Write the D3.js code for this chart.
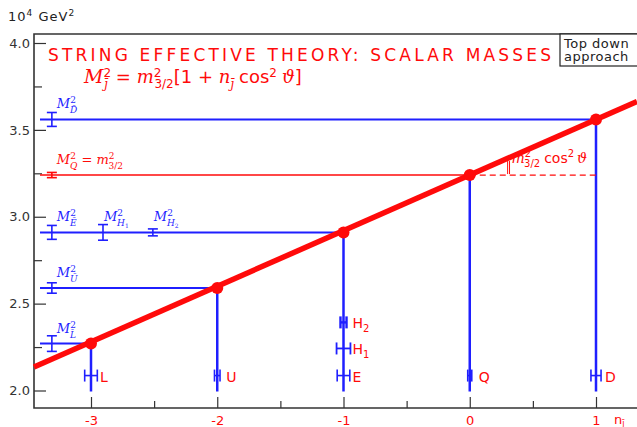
<!DOCTYPE html>
<html>
<head>
<meta charset="utf-8">
<script src="https://cdn.jsdelivr.net/npm/d3@7"></script>
<style>
  body { margin: 0; background: #fff; }
  svg { display: block; }
  text { font-family: "DejaVu Sans", sans-serif; }
  .m { font-family: "DejaVu Serif", "Liberation Serif", serif; font-style: italic; }
</style>
</head>
<body>
<div id="chart"></div>
<script>
// dades
let nVals = [-3, -2, -1, 0, 1]
let noms = ['L', 'U', 'E', 'Q', 'D']
let masses = [2.27, 2.59, 2.91, 3.24, 3.56]
let errMassa = [0.045, 0.03, 0.04, 0.015, 0.04]
let errN = [0.05, 0.022, 0.05, 0.016, 0.04]
let yBarraN = 2.086
// higgs
let nomsH = ['H1', 'H2']
let massesH = [2.91, 2.91]
let errMassaH = [0.045, 0.02]
let errNH = [0.055, 0.024]
let yBarraH = [2.242, 2.392]
// posicions n de les barres d'error de l'esquerra
let xErrEsq = -3.31
let xErrH = [-2.905, -2.51]
// model
let m32 = 3.24
let cos2 = 0.32
let ticksY = [2.0, 2.5, 3.0, 3.5, 4.0]
let ticksYmin = [2.25, 2.75, 3.25, 3.75]
let ticksX = [-3, -2, -1, 0, 1]
let ticksXmin = [-2.5, -1.5, -0.5, 0.5]

let ample = 637, alt = 427
let blau = '#1f1fff', vermell = '#ff0a0a'

let svg = d3.select('#chart').append('svg')
  .attr('width', ample).attr('height', alt)

let x = d3.scaleLinear().domain([-3, 1]).range([91, 596])
let y = d3.scaleLinear().domain([2, 4]).range([390.5, 43])
let xMin = x.invert(34), xMax = x.invert(ample)

// eixos
svg.append('g').attr('transform', 'translate(0,408)')
  .call(d3.axisBottom(x).tickValues(ticksX).tickSize(-11).tickPadding(8).tickFormat(d => String(d)))
  .call(g => g.select('.domain').remove())
  .call(g => g.selectAll('line').attr('stroke', '#333').attr('stroke-width', 1.2))
  .call(g => g.selectAll('text').attr('fill', vermell).attr('font-size', 13).attr('font-family', 'DejaVu Sans'))
svg.append('g').attr('transform', 'translate(0,408)')
  .call(d3.axisBottom(x).tickValues(ticksXmin).tickSize(-7).tickFormat(''))
  .call(g => g.select('.domain').remove())
  .call(g => g.selectAll('line').attr('stroke', '#333').attr('stroke-width', 1.2))

svg.append('g').attr('transform', 'translate(34,0)')
  .call(d3.axisLeft(y).tickValues(ticksY).tickSize(-12).tickPadding(4).tickFormat(d3.format('.1f')))
  .call(g => g.select('.domain').remove())
  .call(g => g.selectAll('line').attr('stroke', '#333').attr('stroke-width', 1.2))
  .call(g => g.selectAll('text').attr('fill', '#333').attr('font-size', 13).attr('font-family', 'DejaVu Sans'))
svg.append('g').attr('transform', 'translate(34,0)')
  .call(d3.axisLeft(y).tickValues(ticksYmin).tickSize(-8).tickFormat(''))
  .call(g => g.select('.domain').remove())
  .call(g => g.selectAll('line').attr('stroke', '#333').attr('stroke-width', 1.2))

// marc
svg.append('path')
  .attr('d', `M${ample},34H34V408H${ample}`)
  .attr('fill', 'none').attr('stroke', '#333').attr('stroke-width', 1.6)

// línies horitzontals i verticals
let xInici = x.invert(40)
nVals.forEach((n, i) => {
  let col = noms[i] === 'Q' ? vermell : blau
  svg.append('line')
    .attr('x1', x(xInici)).attr('x2', x(n))
    .attr('y1', y(masses[i])).attr('y2', y(masses[i]))
    .attr('stroke', col).attr('stroke-width', noms[i] === 'Q' ? 1.5 : 2)
  svg.append('line')
    .attr('x1', x(n)).attr('x2', x(n))
    .attr('y1', y(masses[i])).attr('y2', y(2) + 1)
    .attr('stroke', blau).attr('stroke-width', 2.5)
})
// línia discontínua Q
svg.append('line')
  .attr('x1', x(0)).attr('x2', x(1))
  .attr('y1', y(m32)).attr('y2', y(m32))
  .attr('stroke', vermell).attr('stroke-width', 1.3).attr('stroke-dasharray', '6,4')

// barres d'error verticals (esquerra)
function barraV(xv, yv, e, col) {
  let g = svg.append('g').attr('stroke', col).attr('stroke-width', 1.6)
  g.append('line').attr('x1', x(xv)).attr('x2', x(xv)).attr('y1', y(yv - e)).attr('y2', y(yv + e))
  g.append('line').attr('x1', x(xv) - 5).attr('x2', x(xv) + 5).attr('y1', y(yv - e)).attr('y2', y(yv - e))
  g.append('line').attr('x1', x(xv) - 5).attr('x2', x(xv) + 5).attr('y1', y(yv + e)).attr('y2', y(yv + e))
}
masses.forEach((m, i) => barraV(xErrEsq, m, errMassa[i], noms[i] === 'Q' ? vermell : blau))
massesH.forEach((m, i) => barraV(xErrH[i], m, errMassaH[i], blau))

// barres d'error horitzontals (n)
function barraH(xv, yv, e, w) {
  let g = svg.append('g').attr('stroke', blau).attr('stroke-width', w || 1.8)
  g.append('line').attr('x1', x(xv - e)).attr('x2', x(xv + e)).attr('y1', y(yv)).attr('y2', y(yv))
  g.append('line').attr('x1', x(xv - e)).attr('x2', x(xv - e)).attr('y1', y(yv) - 6).attr('y2', y(yv) + 6)
  g.append('line').attr('x1', x(xv + e)).attr('x2', x(xv + e)).attr('y1', y(yv) - 6).attr('y2', y(yv) + 6)
}
nVals.forEach((n, i) => barraH(n, yBarraN, errN[i], 1.6))
yBarraH.forEach((yv, i) => barraH(-1, yv, errNH[i], i === 1 ? 2.4 : 1.8))

// línia del model
svg.append('line')
  .attr('x1', x(xMin)).attr('y1', y(m32 + xMin * cos2))
  .attr('x2', x(xMax)).attr('y2', y(m32 + xMax * cos2))
  .attr('stroke', vermell).attr('stroke-width', 5.5)

// punts
svg.selectAll('circle.p')
  .data(nVals)
  .enter()
  .append('circle')
  .attr('cx', d => x(d))
  .attr('cy', (d, i) => y(masses[i]))
  .attr('r', 6)
  .attr('fill', vermell)

// etiquetes L U E Q D
nVals.forEach((n, i) => {
  svg.append('text').attr('x', x(n) + 9).attr('y', y(yBarraN) + 6)
    .attr('fill', vermell).attr('font-size', 14).text(noms[i])
})
yBarraH.forEach((yv, i) => {
  let t = svg.append('text').attr('x', x(-1) + 9).attr('y', y(yv) + 6)
    .attr('fill', vermell).attr('font-size', 14)
  t.append('tspan').text('H')
  t.append('tspan').attr('font-size', 10).attr('dy', 4).text(nomsH[i].slice(1))
})

// etiquetes M^2 de l'esquerra
function etiquetaM(xp, yp, sub, col) {
  let t = svg.append('text').attr('class', 'm').attr('x', xp).attr('y', yp)
    .attr('fill', col).attr('font-size', 13)
  t.append('tspan').text('M')
  t.append('tspan').attr('font-size', 9).attr('dy', -5).attr('font-style', 'normal').text('2')
  t.append('tspan').attr('font-size', 9).attr('dx', -6).attr('dy', 10).text(sub)
  return t
}
let subs = ['L\u0304', 'U\u0304', 'E\u0304', 'Q', 'D\u0304']
masses.forEach((m, i) => {
  if (noms[i] === 'Q') return
  etiquetaM(x(xErrEsq) + 5, y(m) - 11, subs[i], blau)
})
massesH.forEach((m, i) => {
  let t = etiquetaM(x(xErrH[i]) + 1, y(m) - 11, 'H', blau)
  t.append('tspan').attr('font-size', 6).attr('dy', 2).attr('font-style', 'normal').text(nomsH[i].slice(1))
})
let tq = etiquetaM(x(xErrEsq) + 5, y(m32) - 11, 'Q', vermell)
tq.append('tspan').attr('dy', -5).attr('font-style', 'normal').attr('font-size', 13).text(' = ')
tq.append('tspan').attr('font-size', 13).text('m')
tq.append('tspan').attr('font-size', 9).attr('dy', -5).attr('font-style', 'normal').text('2')
tq.append('tspan').attr('font-size', 9).attr('dx', -6).attr('dy', 10).attr('font-style', 'normal').text('3/2')

// anotació pendent
svg.append('line').attr('x1', x(0.3)).attr('x2', x(0.3)).attr('y1', y(m32) - 1).attr('y2', y(m32) - 14)
  .attr('stroke', vermell).attr('stroke-width', 1)
svg.append('line').attr('x1', x(0.315)).attr('x2', x(0.315)).attr('y1', y(m32) - 1).attr('y2', y(m32) - 14)
  .attr('stroke', vermell).attr('stroke-width', 1)
let ta = svg.append('text').attr('x', x(0.33)).attr('y', y(m32) - 12).attr('fill', vermell).attr('font-size', 14)
ta.append('tspan').attr('class', 'm').text('m')
ta.append('tspan').attr('font-size', 10).attr('dy', -6).text('2')
ta.append('tspan').attr('font-size', 10).attr('dx', -7).attr('dy', 10).text('3/2')
ta.append('tspan').attr('dx', 4).attr('dy', -4).text('cos')
ta.append('tspan').attr('font-size', 10).attr('dy', -6).text('2')
ta.append('tspan').attr('class', 'm').attr('dx', 3).attr('dy', 6).text('\u03d1')

// títol
svg.append('text').attr('x', 48).attr('y', 61).attr('fill', vermell)
  .attr('font-size', 17).attr('textLength', 503).attr('lengthAdjust', 'spacing')
  .text('STRING EFFECTIVE THEORY: SCALAR MASSES')
let tf = svg.append('text').attr('x', 84).attr('y', 83).attr('fill', vermell).attr('font-size', 18)
tf.append('tspan').attr('class', 'm').attr('font-size', 19).text('M')
tf.append('tspan').attr('font-size', 12).attr('dy', -6).text('2')
tf.append('tspan').attr('class', 'm').attr('font-size', 12).attr('dx', -7).attr('dy', 11).text('j\u0304')
tf.append('tspan').attr('dx', 8).attr('dy', -5).text('= ')
tf.append('tspan').attr('class', 'm').text('m')
tf.append('tspan').attr('font-size', 12).attr('dy', -6).text('2')
tf.append('tspan').attr('font-size', 12).attr('dx', -7).attr('dy', 11).text('3/2')
tf.append('tspan').attr('dy', -5).text('[1 + ')
tf.append('tspan').attr('class', 'm').text('n')
tf.append('tspan').attr('class', 'm').attr('font-size', 12).attr('dy', 5).text('j\u0304')
tf.append('tspan').attr('dx', 5).attr('dy', -5).text('cos')
tf.append('tspan').attr('font-size', 12).attr('dy', -6).text('2')
tf.append('tspan').attr('class', 'm').attr('dx', 5).attr('dy', 6).text('\u03d1')
tf.append('tspan').text(']')

// unitats
let tu = svg.append('text').attr('x', 8).attr('y', 21).attr('fill', '#222').attr('font-size', 13)
  .attr('letter-spacing', 1)
tu.append('tspan').text('10')
tu.append('tspan').attr('font-size', 9).attr('dy', -5).text('4')
tu.append('tspan').attr('dy', 5).text('  GeV')
tu.append('tspan').attr('font-size', 9).attr('dy', -5).text('2')

// eix x nom
let tn = svg.append('text').attr('x', 614).attr('y', 424).attr('fill', vermell).attr('font-size', 13)
tn.append('tspan').text('n')
tn.append('tspan').attr('font-size', 8).attr('dy', 2).text('j\u0304')

// caixa
svg.append('rect').attr('x', 560).attr('y', 34).attr('width', 80).attr('height', 32)
  .attr('fill', 'white').attr('stroke', '#222').attr('stroke-width', 1.2)
svg.append('text').attr('x', 564).attr('y', 48).attr('font-size', 13).attr('fill', '#222')
  .attr('letter-spacing', 0.5).text('Top down')
svg.append('text').attr('x', 564).attr('y', 61).attr('font-size', 13).attr('fill', '#222')
  .attr('letter-spacing', 0.5).text('approach')
</script>
</body>
</html>
